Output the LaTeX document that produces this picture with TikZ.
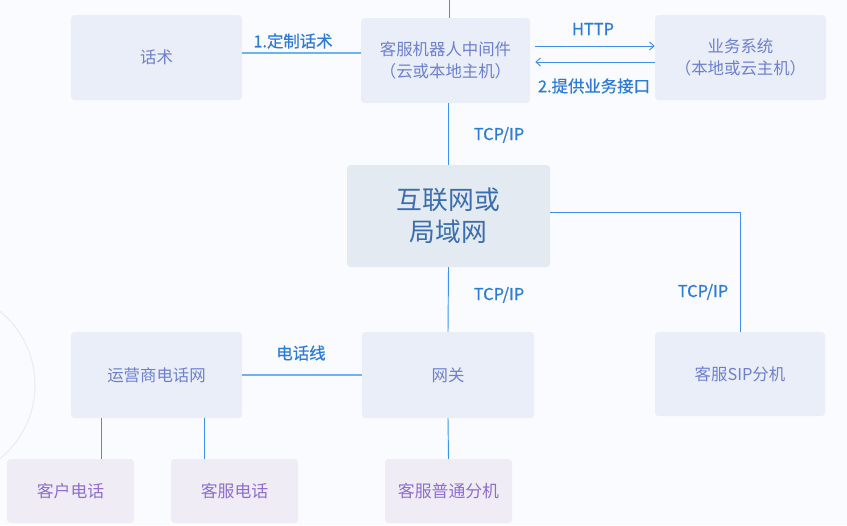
\documentclass[tikz,border=0pt]{standalone}
\usepackage{fontspec}
\setmainfont{Noto Sans CJK SC}
\newfontfamily\lblfont[FakeBold=0.5]{Noto Sans CJK SC}
\usetikzlibrary{arrows.meta}
\definecolor{boxfill}{HTML}{EAEEF8}
\definecolor{boxtext}{HTML}{6D80D0}
\definecolor{netfill}{HTML}{E4EAF2}
\definecolor{nettext}{HTML}{3A6DAE}
\definecolor{phonefill}{HTML}{EFECF6}
\definecolor{phonetext}{HTML}{8E6ECF}
\definecolor{linkblue}{HTML}{3E90EE}
\definecolor{softblue}{HTML}{6CB2F5}
\definecolor{lbltext}{HTML}{2C7BD6}
\definecolor{pagebg}{HTML}{FAFBFE}
\definecolor{ringgray}{HTML}{E9EDF4}
\tikzset{
  box/.style={rounded corners=3pt, fill=boxfill, text=boxtext, align=center,
    font=\fontsize{14}{18.5}\selectfont, inner sep=0pt},
  netbox/.style={box, fill=netfill, text=nettext, font=\fontsize{22}{27.5}\selectfont},
  phonebox/.style={box, fill=phonefill, text=phonetext, font=\fontsize{14.4}{18}\selectfont},
  link/.style={draw=linkblue, line width=0.8pt},
  softlink/.style={draw=softblue, line width=1.4pt},
  lbl/.style={text=lbltext, font=\lblfont\fontsize{14}{16}\selectfont, inner sep=0pt},
}
\begin{document}
\begin{tikzpicture}[x=0.03cm, y=-0.03cm]
  % page and background
  \useasboundingbox (0,0) rectangle (847,525);
  \fill[pagebg] (0,0) rectangle (847,525);
  \begin{scope}
    \clip (0,0) rectangle (847,525);
    \draw[ringgray, line width=1pt] (-60,385) circle (95);
  \end{scope}

  % top row
  \node[box, minimum width=5.13cm, minimum height=2.55cm] (script) at (156.5,57.5) {话术};
  \node[box, minimum width=5.07cm, minimum height=2.55cm] (mw) at (445.5,60.5) {客服机器人中间件\\（云或本地主机）};
  \node[box, minimum width=5.13cm, minimum height=2.55cm] (biz) at (740.5,57.5) {业务系统\\（本地或云主机）};

  % middle
  \node[netbox, minimum width=6.09cm, minimum height=3.06cm] (net) at (448.5,216) {互联网或\\局域网};

  % lower row
  \node[box, minimum width=5.13cm, minimum height=2.58cm] (carrier) at (156.5,375) {运营商电话网};
  \node[box, minimum width=5.16cm, minimum height=2.58cm] (gw) at (448,375) {网关};
  \node[box, minimum width=5.10cm, minimum height=2.52cm] (sip) at (740,374) {客服SIP分机};

  % bottom row
  \node[phonebox, minimum width=3.81cm, minimum height=1.92cm] (custphone) at (70.5,491) {客户电话};
  \node[phonebox, minimum width=3.81cm, minimum height=1.92cm] (agentphone) at (234.5,491) {客服电话};
  \node[phonebox, minimum width=3.81cm, minimum height=1.92cm] (agentext) at (448.5,491) {客服普通分机};

  % helper coordinates
  \coordinate (topend) at (449,0);
  \coordinate (h1) at (0,46);
  \coordinate (h2) at (0,62);
  \coordinate (s1) at (0,53);
  \coordinate (r1) at (0,212);
  \coordinate (c1) at (101,0);
  \coordinate (c2) at (204,0);

  % connectors
  \draw[softlink] (script.east |- s1) -- (mw.west |- s1);
  \draw[link] (mw.north -| topend) -- (topend);
  \draw[link, -{Straight Barb[length=4pt, width=7pt]}] ([xshift=0.15cm]mw.east |- h1) -- (biz.west |- h1);
  \draw[link, -{Straight Barb[length=4pt, width=7pt]}] (biz.west |- h2) -- ([xshift=0.15cm]mw.east |- h2);
  \draw[link] (mw.south -| net) -- (net.north);
  \draw[link] (net.south) -- (gw.north);
  \draw[link] (net.east |- r1) -| (sip.north);
  \draw[softlink] (carrier.east) -- (gw.west);
  \draw[link] (carrier.south -| c1) -- (custphone.north -| c1);
  \draw[link] (carrier.south -| c2) -- (agentphone.north -| c2);
  \draw[link] (gw.south) -- (agentext.north);

  % connector labels
  \node[lbl] (lscript) at (293,41) {1.定制话术};
  \node[lbl] (lhttp) at (593,29) {HTTP};
  \node[lbl] (lapi) at (594,86) {2.提供业务接口};
  \node[lbl] (ltcp1) at (499,135) {TCP/IP};
  \node[lbl] (ltcp2) at (499,295) {TCP/IP};
  \node[lbl] (ltcp3) at (703,292) {TCP/IP};
  \node[lbl] (lline) at (301,353) {电话线};
\end{tikzpicture}
\end{document}
